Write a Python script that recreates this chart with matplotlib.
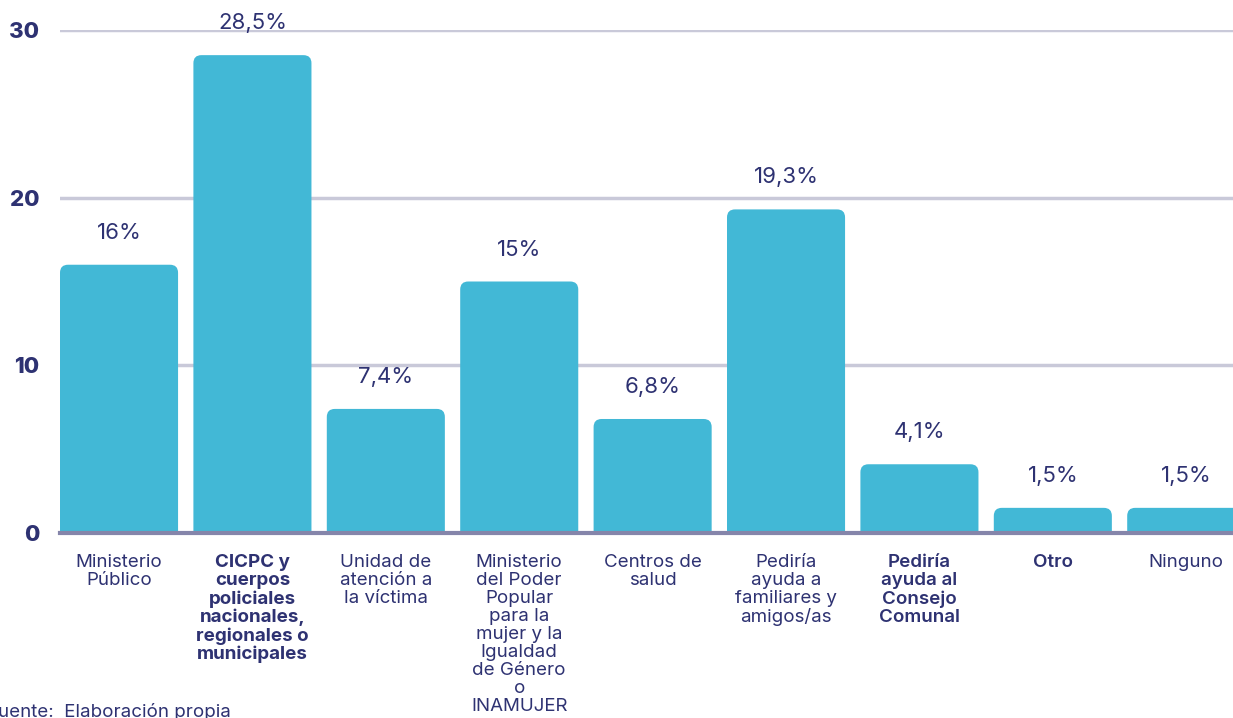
import matplotlib
matplotlib.use("Agg")
import matplotlib.pyplot as plt
from matplotlib.patches import FancyBboxPatch

categories = [
    "Ministerio\nPúblico",
    "CICPC y\ncuerpos\npoliciales\nnacionales,\nregionales o\nmunicipales",
    "Unidad de\natención a\nla víctima",
    "Ministerio\ndel Poder\nPopular\npara la\nmujer y la\nIgualdad\nde Género\no\nINAMUJER",
    "Centros de\nsalud",
    "Pediría\nayuda a\nfamiliares y\namigos/as",
    "Pediría\nayuda al\nConsejo\nComunal",
    "Otro",
    "Ninguno",
]
values = [16.0, 28.5, 7.4, 15.0, 6.8, 19.3, 4.1, 1.5, 1.5]
value_labels = ["16%", "28,5%", "7,4%", "15%", "6,8%", "19,3%", "4,1%", "1,5%", "1,5%"]
label_weights = ["normal", "bold", "normal", "normal", "normal", "normal", "semibold", "semibold", "normal"]
yticks = [0, 10, 20, 30]

W, H = 1233, 718
fig = plt.figure(figsize=(W / 100, H / 100), dpi=100)
plt.rcParams['font.family'] = ['Inter', 'DejaVu Sans']

left_px, right_px = 60, 1233
y0_px, y30_px = 533, 30
ax = fig.add_axes([left_px / W, 1 - y0_px / H, (right_px - left_px) / W, (y0_px - y30_px) / H])

bar_w = 0.885
ax.set_xlim(-bar_w / 2, -bar_w / 2 + (right_px - left_px) / 133.4)
ax.set_ylim(0, 30)

bar_color = "#42b8d6"
text_color = "#2e3272"

xpx = 133.4
ypx = (y0_px - y30_px) / 30.0
r_px = 8
rx = r_px / xpx
aspect = (1 / ypx) / (1 / xpx)

for i, v in enumerate(values):
    p = FancyBboxPatch((i - bar_w / 2, -1.5), bar_w, v + 1.5,
                       boxstyle=f"round,pad=0,rounding_size={rx}",
                       mutation_aspect=aspect, facecolor=bar_color,
                       edgecolor="none", zorder=3)
    ax.add_patch(p)
    ax.annotate(value_labels[i], (i, v), xytext=(0, 23), textcoords="offset points",
                ha="center", va="center", fontsize=16, color=text_color, zorder=4)

for t in yticks[1:]:
    ax.axhline(t, color="#c9c9d9", lw=2.5, zorder=1)
ax.axhline(0, color="#8585aa", lw=3, zorder=4, clip_on=False)

for s in ax.spines.values():
    s.set_visible(False)
ax.set_xticks([])
ax.set_yticks(yticks)
ax.set_yticklabels([str(t) for t in yticks], fontsize=16, fontweight="heavy", color=text_color)
ax.tick_params(axis="y", length=0, pad=15)

for i, c in enumerate(categories):
    ax.text(i, -1.25, c, ha="center", va="top", fontsize=13.5, color=text_color,
            fontweight=label_weights[i], linespacing=1.08, clip_on=False)

fig.text(-13 / W, 1 - 712 / H, "Fuente:  Elaboración propia", ha="left", va="center",
         fontsize=13.5, color=text_color)

fig.savefig("out.png", dpi=100)
